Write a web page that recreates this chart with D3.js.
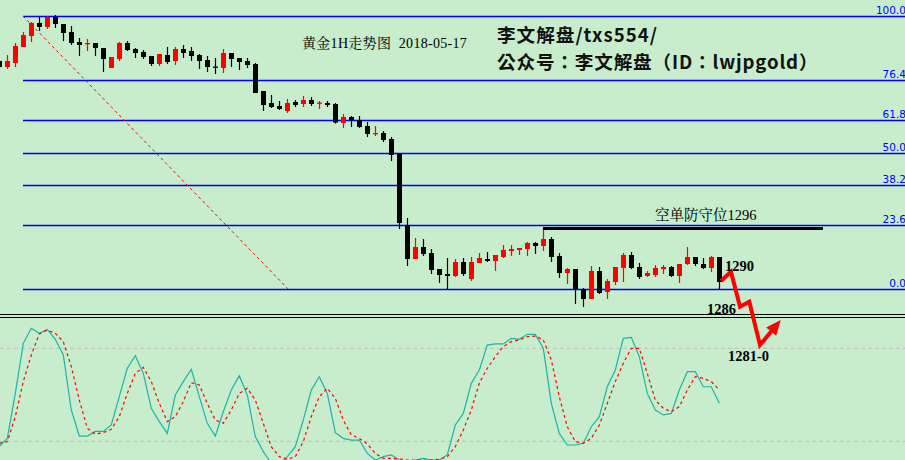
<!DOCTYPE html>
<html><head><meta charset="utf-8">
<script src="https://cdn.jsdelivr.net/npm/d3@7"></script>
<style>html,body{margin:0;padding:0;background:#c7edcc;}svg{display:block;}</style>
</head><body>
<svg id="chart" width="905" height="460"></svg>
<script>
// ---------- data ----------
const openP = [1318.0,1317.25,1317.75,1319.75,1321.125,1322.75,1322.25,1323.5,1322.625,1321.625,
1320.375,1320.125,1320.25,1319.625,1317.125,1318.25,1320.25,1319.5,1319.125,1318.625,
1317.625,1318.75,1318.0,1319.5,1319.25,1318.75,1318.125,1317.31,1317.125,1319.0,
1318.375,1318.0,1317.625,1314.25,1312.75,1312.375,1311.75,1312.875,1312.625,1313.125,
1312.69,1312.75,1312.625,1310.25,1311.0,1310.625,1309.875,1308.875,1309.0,1308.25,
1306.375,1297.5,1293.25,1294.75,1294.0,1292.0,1291.375,1291.125,1292.875,1290.75,
1292.75,1293.25,1293.0,1293.5,1294.25,1294.375,1294.5,1295.25,1294.875,1295.75,
1293.625,1291.5,1292.0,1289.5,1288.25,1291.75,1289.125,1290.375,1292.125,1293.75,
1292.25,1291.125,1291.25,1292.0,1292.25,1291.125,1292.625,1293.5,1292.625,1292.125,1293.5];
const highP = [1318.125,1318.75,1320.25,1321.625,1322.875,1323.5,1323.625,1323.75,1322.625,1322.375,
1320.875,1320.75,1320.25,1319.625,1318.5,1320.375,1320.5,1319.625,1319.375,1318.625,
1318.875,1319.75,1319.75,1320.0,1319.75,1318.875,1318.625,1318.375,1319.5,1319.0,
1318.375,1318.375,1317.75,1314.25,1313.75,1313.0,1313.25,1313.125,1313.625,1313.5,
1313.0,1313.0,1312.75,1311.375,1311.125,1311.125,1310.375,1309.875,1309.25,1308.5,
1306.375,1298.375,1295.875,1295.75,1294.5,1292.0,1293.375,1293.25,1293.375,1293.5,
1294.0,1294.125,1293.75,1295.0,1295.0,1294.625,1295.375,1295.375,1297.125,1296.0,
1294.0,1292.125,1292.0,1289.625,1292.375,1292.25,1290.75,1292.25,1294.0,1294.125,
1292.75,1291.75,1292.5,1292.5,1292.375,1292.625,1294.75,1293.5,1293.375,1293.625,1293.5];
const lowP = [1317.125,1317.0,1317.25,1319.75,1320.375,1321.75,1322.0,1322.125,1320.5,1320.0,
1318.625,1319.25,1318.625,1316.625,1317.125,1318.0,1319.25,1318.375,1318.25,1317.375,
1317.375,1317.625,1317.5,1318.375,1318.0,1317.0,1316.625,1316.375,1316.5,1317.25,
1316.875,1317.125,1314.0,1311.75,1312.125,1311.875,1311.5,1312.25,1312.25,1312.375,
1312.0,1312.25,1310.19,1309.625,1309.75,1309.625,1308.5,1308.625,1307.875,1305.5,
1297.0,1292.375,1293.25,1293.625,1291.375,1290.25,1289.5,1291.0,1291.125,1290.5,
1292.75,1292.875,1291.75,1293.375,1293.625,1293.75,1293.625,1293.875,1294.25,1292.875,
1290.875,1290.125,1287.625,1287.25,1288.25,1288.875,1288.25,1290.0,1290.375,1292.0,
1290.75,1291.0,1291.0,1291.375,1291.0,1290.25,1292.5,1292.375,1292.0,1291.625,1289.375];
const closeP = [1317.25,1318.0,1319.875,1321.25,1322.75,1322.25,1323.5,1322.625,1321.5,1320.25,
1320.0,1320.25,1319.625,1318.25,1318.5,1320.25,1319.375,1319.0,1318.5,1317.625,
1318.875,1317.875,1319.5,1319.0,1318.625,1318.0,1317.25,1317.19,1319.0,1318.25,
1317.875,1317.5,1314.0,1312.5,1312.25,1312.0,1312.75,1312.5,1313.125,1312.625,
1312.81,1312.5,1310.31,1311.0,1310.625,1309.75,1308.875,1309.0,1308.125,1306.25,
1297.75,1293.25,1294.75,1293.875,1291.875,1291.25,1291.125,1292.875,1291.375,1292.875,
1293.375,1293.0,1293.75,1294.375,1294.5,1294.625,1295.25,1294.875,1295.75,1293.5,
1291.5,1292.0,1289.5,1288.25,1291.75,1289.0,1290.5,1292.25,1293.75,1292.125,
1291.0,1291.5,1292.125,1292.25,1291.125,1292.625,1293.5,1292.625,1292.125,1293.5,1290.375];
const kLine = [16.5,21.9,50.9,83.2,92.9,89.7,92.2,85.8,75.7,40.2,
23.4,23.4,26.4,26.4,30.5,48.8,67.1,75.2,63.8,41.3,
32.7,25.1,49.9,58.5,66.4,48.8,31.6,23.4,39.1,53.1,
62.3,49.9,23.0,13.3,5.8,5.4,10.1,16.5,33.7,53.1,
61.7,50.9,25.6,21.9,20.8,20.8,12.2,7.9,10.1,11.2,
7.9,5.8,7.9,9.0,7.9,7.9,11.2,30.5,38.0,57.4,
66.0,82.1,82.8,82.8,86.4,85.8,89.0,89.0,80.0,44.5,
25.1,17.6,17.6,18.7,29.4,35.9,55.2,66.0,86.4,87.1,
74.6,50.9,40.2,37.0,38.0,53.1,64.9,64.9,55.2,55.2,44.5];
const dLine = [18.7,19.8,35.9,58.5,75.7,89.2,91.8,89.7,84.3,68.2,
46.6,28.4,24.7,25.6,27.7,35.9,50.9,63.8,67.7,58.5,
44.5,32.7,35.9,45.6,57.8,56.3,44.5,33.7,31.6,40.2,
50.9,54.2,46.6,31.6,16.5,10.1,8.4,10.1,19.8,35.9,
48.8,54.2,47.7,33.7,24.1,21.9,18.3,12.2,9.0,9.0,
8.6,7.9,7.9,7.9,7.9,8.4,10.1,16.5,27.3,40.2,
57.4,67.1,74.6,81.1,84.3,85.4,87.5,87.9,85.4,72.5,
48.8,29.4,19.8,18.7,21.9,30.5,44.5,58.5,70.3,80.0,
80.0,63.8,46.6,41.3,39.1,42.3,53.1,61.7,60.6,58.5,53.1];
const fibRatios = [1, 0.764, 0.618, 0.5, 0.382, 0.236, 0];
const fibLabels = ["100.0","76.4","61.8","50.0","38.2","23.6","0.0"];
const fibHigh = 1323.625, fibLow = 1289.5;
const fibStartIdx = 2.96, fibEndIdx = 36.1;
const kdLevels = [80, 20];
const defenseLevel = 1297.06, defenseFrom = 67.96, defenseTo = 102.96;
const arrowIdx = [90.21, 91.46, 92.59, 93.75, 95.09, 97.68];
const arrowPrice = [1290.5, 1291.66, 1287.29, 1287.91, 1282.5, 1285.625];
const titleText = "黄金1H走势图  2018-05-17";
const brandLines = ["李文解盘/txs554/", "公众号：李文解盘（ID：lwjpgold）"];
const notes = [
  {t:"空单防守位1296", i:81.96, p:1298.125},
  {t:"1290", i:90.71, p:1291.75},
  {t:"1286", i:88.46, p:1286.375},
  {t:"1281-0", i:91.09, p:1280.5}
];

// ---------- chart ----------
const W = 905, H = 460;
const svg = d3.select("#chart");
svg.append("rect").attr("width", W).attr("height", H).attr("fill", "#c7edcc");

const x = d3.scaleLinear().domain([0, 90]).range([-0.7, 719.3]);
const y = d3.scaleLinear().domain([fibLow, fibHigh]).range([289, 16]);
const ky = d3.scaleLinear().domain([0, 100]).range([472.3, 317.3]);

const candles = openP.map((o, i) => ({i, o, h: highP[i], l: lowP[i], c: closeP[i]}));

// fib levels
const fibG = svg.append("g");
fibRatios.forEach((r, k) => {
  const p = fibLow + r * (fibHigh - fibLow);
  const yy = Math.round(y(p)) + 0.5;
  fibG.append("line").attr("x1", x(fibStartIdx)).attr("x2", W)
    .attr("y1", yy).attr("y2", yy).attr("stroke", "#0000ff").attr("stroke-width", 1.3);
  fibG.append("text").attr("x", W + 1).attr("y", yy - 2.5).attr("text-anchor", "end")
    .attr("font-family", "DejaVu Sans, Verdana, sans-serif").attr("font-size", 10.5)
    .attr("fill", "#0000ff").text(fibLabels[k]);
});
// fib diagonal
svg.append("line").attr("x1", x(fibStartIdx)).attr("y1", y(fibHigh))
  .attr("x2", x(fibEndIdx)).attr("y2", y(fibLow))
  .attr("stroke", "#ff0000").attr("stroke-width", 1).attr("stroke-dasharray", "3,3");

// candles
const cg = svg.append("g");
cg.selectAll("line.wick").data(candles).enter().append("line")
  .attr("x1", d => Math.round(x(d.i)) + 0.5).attr("x2", d => Math.round(x(d.i)) + 0.5)
  .attr("y1", d => y(d.h)).attr("y2", d => y(d.l))
  .attr("stroke", d => d.c > d.o ? "#ff0000" : "#000000").attr("stroke-width", 1.2);
cg.selectAll("rect.body").data(candles).enter().append("rect")
  .attr("x", d => Math.round(x(d.i)) - 2)
  .attr("width", 5)
  .attr("y", d => y(Math.max(d.o, d.c)))
  .attr("height", d => Math.max(1.3, Math.abs(y(d.o) - y(d.c))))
  .attr("fill", d => d.c > d.o ? "#ff0000" : "#000000");

// defense line
svg.append("line").attr("x1", x(defenseFrom)).attr("x2", x(defenseTo))
  .attr("y1", y(defenseLevel)).attr("y2", y(defenseLevel))
  .attr("stroke", "#000").attr("stroke-width", 3);

// separator
[314, 317].forEach(v => svg.append("line").attr("x1", 0).attr("x2", W)
  .attr("y1", v + 0.5).attr("y2", v + 0.5).attr("stroke", "#000").attr("stroke-width", 1.2));

// KD panel
kdLevels.forEach(v => svg.append("line").attr("x1", 0).attr("x2", W)
  .attr("y1", ky(v)).attr("y2", ky(v)).attr("stroke", "#c4bcc4")
  .attr("stroke-width", 1).attr("stroke-dasharray", "4,3"));
const kdClip = svg.append("clipPath").attr("id", "kdclip");
kdClip.append("rect").attr("x", 0).attr("y", 318).attr("width", W).attr("height", H - 318);
const lineK = d3.line().x((d, i) => x(i)).y(d => ky(d));
svg.append("path").attr("d", lineK(kLine)).attr("fill", "none")
  .attr("stroke", "#20b2aa").attr("stroke-width", 1.2).attr("clip-path", "url(#kdclip)");
svg.append("path").attr("d", lineK(dLine)).attr("fill", "none")
  .attr("stroke", "#ff0000").attr("stroke-width", 1.2).attr("stroke-dasharray", "3,3")
  .attr("clip-path", "url(#kdclip)");

// arrow
const ap = arrowIdx.map((v, i) => [x(v), y(arrowPrice[i])]);
const tip = ap[ap.length - 1], prev = ap[ap.length - 2];
let dx = tip[0] - prev[0], dy = tip[1] - prev[1];
const len = Math.hypot(dx, dy); dx /= len; dy /= len;
const headL = 15, headW = 6.5;
const base = [tip[0] - dx * headL, tip[1] - dy * headL];
const pathPts = ap.slice(0, -1).concat([base]);
svg.append("path").attr("d", d3.line()(pathPts)).attr("fill", "none")
  .attr("stroke", "#ff0000").attr("stroke-width", 4).attr("stroke-linejoin", "miter");
svg.append("path").attr("d", d3.line()([tip,
  [base[0] - dy * headW, base[1] + dx * headW],
  [base[0] + dy * headW, base[1] - dx * headW]]) + "Z").attr("fill", "#ff0000");

// texts
const serif = "Liberation Serif, Times New Roman, Noto Serif CJK SC, Noto Sans CJK SC, serif";
svg.append("text").attr("x", 302).attr("y", 48).attr("font-family", serif)
  .attr("font-size", 14).attr("letter-spacing", 0.3).attr("fill", "#000")
  .style("white-space", "pre").text(titleText);
brandLines.forEach((t, k) => svg.append("text").attr("x", 497).attr("y", 42 + k * 27)
  .attr("font-family", "Noto Sans CJK TC, Noto Sans CJK SC, sans-serif").attr("font-weight", "bold")
  .attr("font-size", 18.6).attr("letter-spacing", k === 0 ? 1 : 0.85)
  .attr("fill", "#111").text(t));
notes.forEach(n => svg.append("text").attr("x", x(n.i)).attr("y", y(n.p))
  .attr("font-family", serif).attr("font-size", 14.5).attr("font-weight", n.t.length > 6 ? "normal" : "bold")
  .attr("fill", "#000").text(n.t));
</script>
</body></html>
